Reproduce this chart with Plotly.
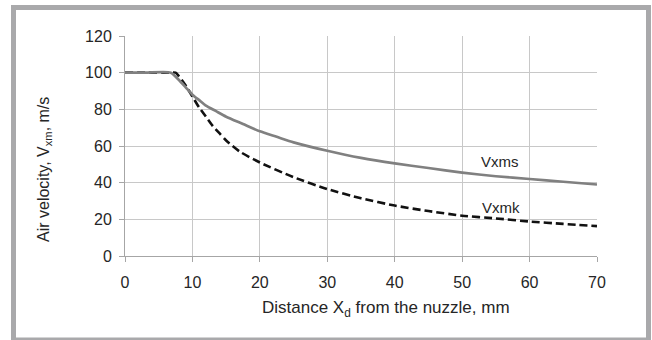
import plotly.graph_objects as go

# Distance from the nozzle, mm
x_vxms = [0, 3, 6.8, 8, 9, 10, 11, 12, 13.5, 15, 17.5, 20, 22.5, 25, 30, 35, 40, 45, 50, 55, 60, 65, 70]
vxms = [100, 100, 100, 96, 92, 88, 85, 82, 79, 76, 72, 68, 65, 62, 57.4, 53.5, 50.5, 48, 45.5, 43.5, 42, 40.5, 39]

x_vxmk = [0, 3, 6.5, 7.5, 8, 9, 10, 11, 12, 13, 14, 15, 17, 20, 25, 30, 35, 40, 45, 50, 55, 60, 65, 70]
vxmk = [100, 100, 100, 100, 98, 93, 87, 81, 76, 71, 67, 63, 57, 51, 43, 36.5, 31.5, 27.5, 24.5, 22, 20.5, 18.8, 17.5, 16.3]

x_ticks = [0, 10, 20, 30, 40, 50, 60, 70]
y_ticks = [0, 20, 40, 60, 80, 100, 120]

series_labels = ["Vxms", "Vxmk"]
label_pos = [(55.6, 51.4), (55.8, 26.7)]

FONT = "Liberation Sans, Arial, sans-serif"
TXT = "#262626"

fig = go.Figure()
fig.add_trace(go.Scatter(x=x_vxmk, y=vxmk, mode="lines", line=dict(color="#111111", width=2.6, dash="8px,4px", shape="spline", smoothing=0.6), showlegend=False))
fig.add_trace(go.Scatter(x=x_vxms, y=vxms, mode="lines", line=dict(color="#808080", width=2.7, shape="spline", smoothing=0.6), showlegend=False))

for lab, (lx, ly) in zip(series_labels, label_pos):
    fig.add_annotation(x=lx, y=ly, text=lab, showarrow=False, font=dict(family=FONT, size=15, color=TXT))

fig.add_annotation(xref="paper", yref="paper", x=(386 - 125) / 472, y=(256 - 309) / 220,
                   text="Distance X<sub>d</sub> from the nuzzle, mm", showarrow=False,
                   font=dict(family=FONT, size=17, color=TXT), xanchor="center", yanchor="middle")
fig.add_annotation(xref="paper", yref="paper", x=(44 - 125) / 472, y=(256 - 170) / 220,
                   text="Air velocity, V<sub>xm</sub>, m/s", showarrow=False, textangle=-90,
                   font=dict(family=FONT, size=16, color=TXT), xanchor="center", yanchor="middle")

fig.add_shape(type="rect", xref="paper", yref="paper",
              x0=(13.5 - 125) / 472, x1=(648.5 - 125) / 472,
              y0=(256 - 340) / 220, y1=(256 - 7.5) / 220,
              line=dict(color="#a9a9ab", width=5), fillcolor="rgba(0,0,0,0)", layer="below")

fig.update_xaxes(range=[0, 70], tickvals=x_ticks, showgrid=True, gridcolor="#c8c8c8", gridwidth=1,
                 showline=True, linecolor="#a6a6a6", linewidth=1, ticks="outside", ticklen=5,
                 tickcolor="#a6a6a6", zeroline=False, ticklabelstandoff=7,
                 tickfont=dict(family=FONT, size=16, color=TXT))
fig.update_yaxes(range=[0, 120], tickvals=y_ticks, showgrid=True, gridcolor="#c8c8c8", gridwidth=1,
                 showline=True, linecolor="#a6a6a6", linewidth=1, ticks="outside", ticklen=5,
                 tickcolor="#a6a6a6", zeroline=False, ticklabelstandoff=4,
                 tickfont=dict(family=FONT, size=16, color=TXT))

fig.update_layout(width=652, height=340, margin=dict(l=125, r=55, t=36, b=84),
                  paper_bgcolor="white", plot_bgcolor="white", showlegend=False)

fig.write_html("out.html")
